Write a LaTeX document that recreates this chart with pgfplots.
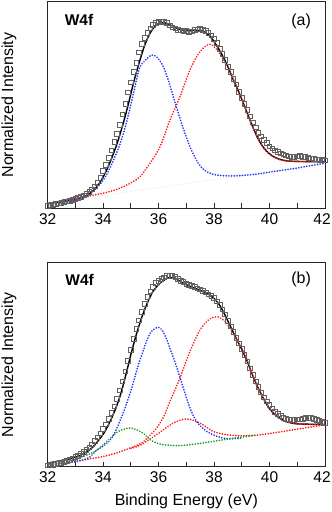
\documentclass[border=0pt]{standalone}
\usepackage{pgfplots}
\pgfplotsset{compat=1.18}
\usepackage{fontspec}
\setmainfont{Liberation Sans}
\definecolor{cblue}{RGB}{30,50,255}
\definecolor{cred}{RGB}{255,25,25}
\definecolor{cgreen}{RGB}{30,160,30}
\begin{document}
\fontsize{15bp}{18bp}\selectfont
\begin{tikzpicture}
\path[use as bounding box] (0bp,0bp) rectangle (332bp,-512bp);
\pgfplotsset{
 panel/.style={
  scale only axis, width=277.3bp,
  xmin=32, xmax=42, ymin=0, ymax=100,
  xtick={32,34,...,42}, minor xtick={33,35,...,41},
  xticklabels={32,34,36,38,40,{\hspace*{-6bp}42}},
  ytick=\empty, xtick pos=left, tick align=inside,
  major tick length=5bp, minor tick length=5bp,
  axis line style={black!85, line width=0.8bp},
  every tick/.style={black!85, line width=0.8bp},
  ticklabel style={font=\fontsize{15.5bp}{18bp}\selectfont},
  ylabel={Normalized Intensity},
  ylabel style={at={(axis description cs:-0.14,0.5)}, anchor=center, font=\fontsize{16bp}{19bp}\selectfont},
 },
 sq/.style={only marks, mark=square, mark size=2.3bp, mark options={draw=black!62, line width=0.85bp, fill=none}},
 fit/.style={black, line width=1.4bp, smooth, no marks},
 comp/.style={line width=1.9bp, dash pattern=on 0.01bp off 2.7bp, line cap=round, smooth, no marks},
}
% ---------------- panel (a) ----------------
\begin{axis}[panel, at={(47.7bp,-1.7bp)}, anchor=north west, height=206.6bp]
\addplot[sq] table {
32.0 1.2
32.1 1.4
32.2 1.7
32.3 2.0
32.4 2.3
32.5 2.6
32.6 3.0
32.7 3.4
32.8 3.7
32.9 4.1
33.0 4.6
33.1 5.1
33.2 5.6
33.3 6.3
33.4 7.0
33.5 8.0
33.6 9.2
33.7 10.6
33.8 12.4
33.9 14.6
34.0 18.0
34.1 21.0
34.2 24.5
34.3 28.0
34.4 32.0
34.5 36.0
34.6 40.5
34.7 45.5
34.8 50.5
34.9 56.0
35.0 61.0
35.1 66.0
35.2 70.5
35.3 75.5
35.4 79.5
35.5 82.5
35.6 85.0
35.7 87.0
35.8 88.8
35.9 89.8
36.0 90.3
36.1 90.5
36.2 90.3
36.3 89.6
36.4 88.5
36.5 87.5
36.6 87.0
36.7 86.4
36.8 86.0
36.9 85.7
37.0 85.8
37.1 85.4
37.2 85.6
37.3 86.2
37.4 86.5
37.5 86.9
37.6 86.4
37.7 85.8
37.8 84.9
37.9 83.6
38.0 82.0
38.1 80.0
38.2 77.2
38.3 74.6
38.4 71.8
38.5 68.5
38.6 66.0
38.7 62.6
38.8 60.0
38.9 56.4
39.0 53.5
39.1 50.5
39.2 47.5
39.3 44.5
39.4 41.5
39.5 39.2
39.6 36.5
39.7 34.8
39.8 33.0
39.9 31.5
40.0 30.0
40.1 28.9
40.2 28.0
40.3 27.2
40.4 26.6
40.5 26.0
40.6 25.6
40.7 25.2
40.8 25.0
40.9 25.0
41.0 25.2
41.1 25.3
41.2 25.0
41.3 24.8
41.4 24.5
41.5 24.2
41.6 23.8
41.7 23.6
41.8 23.4
41.9 23.3
42.0 23.2
};
\addplot[fit] table {
32.0 2.4
32.5 3.2
33.0 4.5
33.3 5.5
33.5 7.0
33.7 9.3
33.9 12.8
34.1 17.8
34.3 24.0
34.5 31.3
34.7 40.0
34.9 50.0
35.1 61.0
35.3 70.5
35.5 79.0
35.7 85.0
35.9 88.5
36.1 89.9
36.3 89.5
36.5 88.2
36.7 86.9
36.9 86.2
37.1 86.0
37.3 86.1
37.5 86.0
37.7 85.0
37.9 82.5
38.1 78.6
38.3 74.0
38.5 68.5
38.7 62.0
38.9 56.0
39.1 49.3
39.3 42.5
39.5 36.2
39.7 31.0
39.9 27.6
40.1 25.4
40.3 24.0
40.6 23.0
41.0 22.7
41.5 22.6
42.0 22.6
};
\addplot[comp, blue!12, line width=1.2bp] table {
33.7 5.6
38.7 15.3
};
\addplot[comp, cred] table {
32.0 2.4
33.0 4.8
34.0 7.3
34.5 9.2
35.0 12.3
35.33 15.3
35.69 21.8
36.05 29.8
36.41 42.7
36.77 54.0
37.13 67.0
37.49 75.8
37.85 79.4
38.21 75.0
38.57 66.0
38.93 55.5
39.11 49.0
39.48 36.3
39.84 28.2
40.2 24.5
40.56 23.0
41.16 22.6
42.0 22.6
};
\addplot[comp, cblue] table {
32.0 1.6
32.5 2.5
33.0 3.8
33.5 6.5
34.07 15.0
34.55 29.0
34.8 39.5
35.03 52.0
35.2 62.0
35.33 68.5
35.51 71.5
35.75 74.2
35.95 73.0
36.17 68.5
36.35 62.0
36.53 54.0
36.83 41.0
37.13 29.8
37.43 21.8
37.73 17.7
38.09 16.1
38.5 15.7
38.93 15.8
39.5 16.5
40.0 17.5
40.5 18.5
41.0 19.5
41.5 20.7
42.0 21.8
};
\node[anchor=west, font=\fontsize{15.5bp}{18bp}\selectfont\bfseries] at (axis description cs:0.043,0.91) {W4f};
\node[anchor=east, font=\fontsize{16bp}{19bp}\selectfont] at (axis description cs:0.968,0.905) {(a)};
\end{axis}
% ---------------- panel (b) ----------------
\begin{axis}[panel, at={(47.7bp,-262.7bp)}, anchor=north west, height=204bp,
  xlabel={Binding Energy (eV)},
  xlabel style={at={(axis description cs:0.5,0)}, anchor=center, yshift=-35bp, font=\fontsize{16bp}{19bp}\selectfont}]
\addplot[sq] table {
32.0 0.6
32.1 0.8
32.2 1.0
32.3 1.3
32.4 1.6
32.5 2.0
32.6 2.4
32.7 2.9
32.8 3.4
32.9 4.0
33.0 4.7
33.1 5.4
33.2 6.2
33.3 7.1
33.4 8.2
33.5 9.5
33.6 10.9
33.7 12.5
33.8 14.3
33.9 16.3
34.0 18.4
34.1 20.8
34.2 23.4
34.3 26.3
34.4 29.5
34.5 33.2
34.6 37.4
34.7 41.8
34.8 46.7
34.9 52.0
35.0 57.2
35.1 62.5
35.2 67.4
35.3 71.8
35.4 76.0
35.5 79.8
35.6 83.2
35.7 86.0
35.8 88.2
35.9 90.0
36.0 91.2
36.1 92.0
36.2 92.8
36.3 93.4
36.4 93.6
36.5 93.5
36.6 93.0
36.7 92.1
36.8 91.2
36.9 90.5
37.0 89.7
37.1 89.0
37.2 88.6
37.3 88.0
37.4 87.4
37.5 86.9
37.6 86.2
37.7 85.4
37.8 84.4
37.9 83.8
38.0 82.6
38.1 81.0
38.2 79.4
38.3 77.0
38.4 74.6
38.5 71.5
38.6 68.8
38.7 66.0
38.8 63.2
38.9 60.5
39.0 57.6
39.1 54.8
39.2 51.6
39.3 48.2
39.4 45.0
39.5 41.8
39.6 39.0
39.7 36.4
39.8 34.0
39.9 32.0
40.0 30.2
40.1 28.5
40.2 27.0
40.3 25.8
40.4 24.8
40.5 24.0
40.6 23.5
40.7 23.1
40.8 23.0
40.9 23.0
41.0 23.1
41.1 23.2
41.2 23.5
41.3 23.8
41.4 24.0
41.5 23.9
41.6 23.5
41.7 22.9
41.8 22.3
41.9 21.9
42.0 21.6
};
\addplot[fit] table {
32.0 1.8
32.4 2.8
32.8 3.9
33.2 5.7
33.6 9.3
34.0 15.9
34.2 20.8
34.4 26.8
34.6 34.2
34.8 44.0
35.0 55.0
35.2 65.0
35.4 73.5
35.6 80.5
35.8 86.0
36.0 89.3
36.2 91.5
36.4 92.8
36.6 92.2
36.8 90.6
37.0 89.2
37.2 88.0
37.4 87.0
37.6 85.8
37.8 84.5
38.0 82.5
38.2 79.2
38.4 74.2
38.6 68.5
38.8 62.8
39.0 57.5
39.2 51.5
39.4 44.5
39.6 38.3
39.8 32.9
40.0 28.4
40.2 25.5
40.4 23.5
40.6 22.1
40.8 21.4
41.0 21.0
41.5 20.8
42.0 20.6
};
\addplot[comp, cred] table {
32.0 1.0
32.5 1.8
33.0 2.6
33.5 3.8
34.0 5.0
34.5 6.8
35.0 9.3
35.3 11.0
35.5 12.8
35.93 19.0
36.2 25.0
36.41 32.0
36.77 43.5
37.13 56.5
37.49 67.0
37.85 72.5
38.15 73.4
38.45 70.4
38.75 64.0
39.11 55.0
39.48 41.8
39.84 32.0
40.2 25.5
40.56 22.2
41.16 20.9
42.0 20.6
};
\addplot[comp, cred] table {
35.0 9.0
35.33 10.5
35.93 15.7
36.53 21.4
37.01 23.4
37.49 21.4
37.97 17.3
38.45 15.7
38.93 15.2
39.5 15.4
40.0 16.3
40.5 17.3
41.0 18.4
41.5 19.5
42.0 20.6
};
\addplot[comp, cblue] table {
32.0 0.8
33.0 2.5
33.5 4.5
33.71 7.5
34.07 10.8
34.31 14.0
34.55 20.6
34.79 28.8
35.03 38.6
35.27 50.0
35.4 55.0
35.55 61.0
35.7 65.5
35.85 67.6
36.0 68.3
36.15 66.5
36.3 62.0
36.45 56.5
36.65 49.0
36.89 38.6
37.13 28.8
37.37 22.2
37.73 17.3
38.21 14.4
38.57 13.7
38.93 14.0
39.0 14.1
};
\addplot[comp, cgreen] table {
32.0 0.8
32.5 1.6
33.1 4.2
33.71 7.5
34.19 13.2
34.55 17.3
34.97 19.0
35.3 17.5
35.5 15.8
35.7 13.2
36.05 11.1
36.65 10.3
37.13 10.8
37.73 11.9
38.33 13.2
38.93 14.4
39.5 15.4
};
\node[anchor=west, font=\fontsize{15.5bp}{18bp}\selectfont\bfseries] at (axis description cs:0.045,0.915) {W4f};
\node[anchor=east, font=\fontsize{16bp}{19bp}\selectfont] at (axis description cs:0.968,0.92) {(b)};
\end{axis}
\end{tikzpicture}
\end{document}
